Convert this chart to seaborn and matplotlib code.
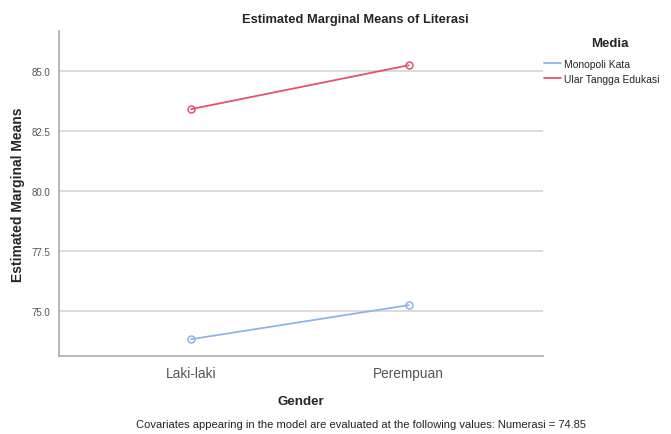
import pandas as pd
import matplotlib.pyplot as plt
import seaborn as sns
from matplotlib.lines import Line2D

gender = ["Laki-laki", "Perempuan"]
media = ["Monopoli Kata", "Ular Tangga Edukasi"]
monopoli = [73.83, 75.25]
ular_tangga = [83.42, 85.25]
y_ticks = [75.0, 77.5, 80.0, 82.5, 85.0]

df = pd.DataFrame({
    "Gender": gender * 2,
    "Media": [media[0]] * 2 + [media[1]] * 2,
    "Literasi": monopoli + ular_tangga,
})

sns.set_style("white")
plt.rcParams["font.family"] = ["Liberation Sans", "DejaVu Sans"]

colors = {"Monopoli Kata": "#8db5ea", "Ular Tangga Edukasi": "#e6516f"}

fig = plt.figure(figsize=(6.71, 4.35), dpi=100)
ax = fig.add_axes([0.088, 0.179, 0.721, 0.747])

sns.lineplot(data=df, x="Gender", y="Literasi", hue="Media", palette=colors,
             marker="o", markersize=5, markerfacecolor="none", markeredgewidth=1.1,
             linewidth=1.3, legend=False, ax=ax)
for line in ax.lines:
    line.set_markeredgecolor(line.get_color())

ax.set_xlim(-0.606, 1.616)
ax.set_ylim(73.125, 86.67)
ax.set_yticks(y_ticks)
ax.set_yticklabels([f"{v:.1f}" for v in y_ticks], fontsize=7, color="#555555")
ax.tick_params(axis="x", labelsize=9.8, colors="#555555", length=0, pad=7)
ax.tick_params(axis="y", length=0, pad=6)
ax.yaxis.grid(True, color="#dcdcdc", linewidth=1.4)
ax.set_axisbelow(True)
for s in ["top", "right"]:
    ax.spines[s].set_visible(False)
for s in ["left", "bottom"]:
    ax.spines[s].set_color("#aaaaaa")
    ax.spines[s].set_linewidth(1.2)

ax.set_xlabel("Gender", fontsize=9.6, fontweight="bold", labelpad=11)
ax.set_ylabel("Estimated Marginal Means", fontsize=10, fontweight="bold", labelpad=5)

fig.text(355 / 671, 1 - 20 / 435, "Estimated Marginal Means of Literasi",
         ha="center", va="center", fontsize=9.3, fontweight="bold")

# legend: title drawn separately so it sits like the SPSS one
fig.text(610 / 671, 1 - 44 / 435, "Media", ha="center", va="center",
         fontsize=9.5, fontweight="bold")
handles = [Line2D([0], [0], color=colors[m], linewidth=1.3) for m in media]
fig.legend(handles, media, loc="upper left", bbox_to_anchor=(544 / 671, 1 - 60 / 435),
           frameon=False, fontsize=7.5, handlelength=1.6, handletextpad=0.3,
           labelspacing=0.45, borderpad=0, borderaxespad=0)

fig.text(361 / 671, 1 - 425 / 435,
         "Covariates appearing in the model are evaluated at the following values: Numerasi = 74.85",
         ha="center", va="center", fontsize=8, color="#222222")

fig.savefig("out.png", dpi=100)
